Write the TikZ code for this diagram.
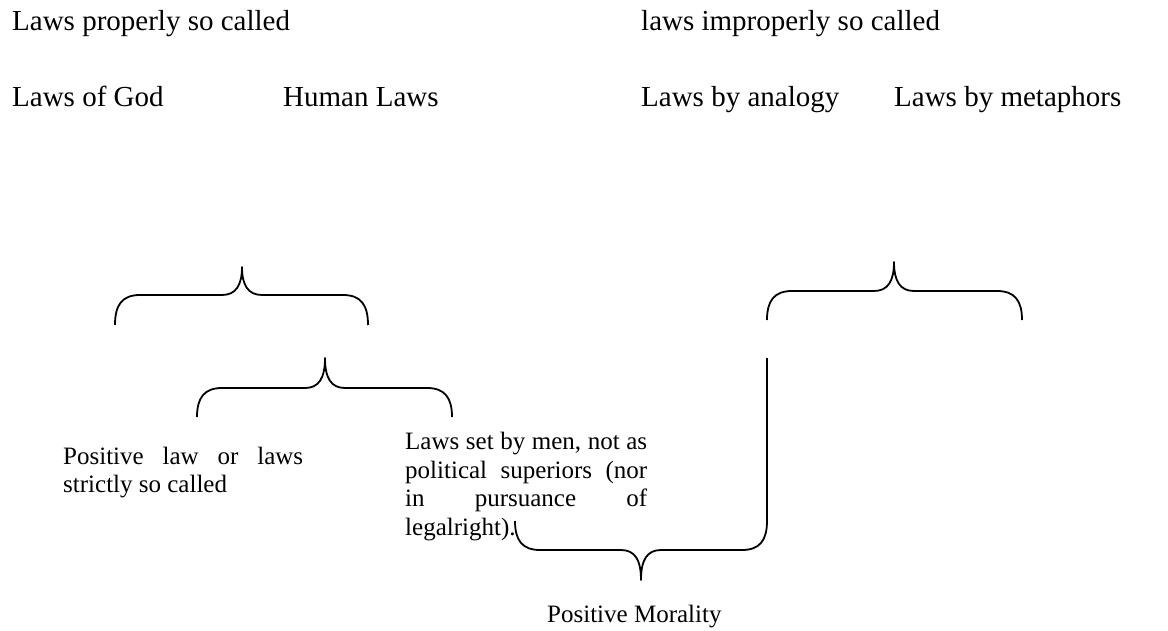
\documentclass[tikz,border=0pt]{standalone}
\usepackage{fontspec}
\setmainfont{Liberation Serif}
\begin{document}
\begin{tikzpicture}[x=1pt,y=-1pt,
  big/.style={font=\fontsize{29}{33}\selectfont, inner sep=0pt, anchor=base west},
  small/.style={font=\fontsize{25}{28.5}\selectfont, inner sep=0pt, anchor=base west},
  brace/.style={line width=1.8pt, line join=round, line cap=butt}]
\useasboundingbox (0,0) rectangle (1168,631);
% top rows
\node[big] (lp) at (12,31) {Laws properly so called};
\node[big] (li) at (641,31) {laws improperly so called};
\node[big] (lg) at (12,107) {Laws of God};
\node[big] (hl) at (283,107) {Human Laws};
\node[big] (la) at (641,107) {Laws by analogy};
\node[big] (lm) at (894,107) {Laws by metaphors};
% paragraphs
\node[small] (pl) at (63,464) {\vtop{\hbox{\makebox[240pt][s]{Positive law or laws}}\hbox{strictly so called}}};
\node[small] (lsm) at (405,449.5) {\vtop{\hbox{\makebox[242pt][s]{Laws set by men, not as}}\hbox{\makebox[242pt][s]{political superiors (nor}}\hbox{\makebox[242pt][s]{in pursuance of}}\hbox{legalright).}}};
\node[small] (pm) at (547,622) {Positive Morality};
% braces
\draw[brace] (115,325) .. controls (115,305) and (122,295) .. (140,295) -- (222,295)
  .. controls (236,295) and (242,285) .. (242,267)
  .. controls (242,285) and (248,295) .. (262,295) -- (343,295)
  .. controls (361,295) and (368,305) .. (368,325);
\draw[brace] (197,417) .. controls (197,398) and (204,388) .. (222,388) -- (305,388)
  .. controls (319,388) and (325,378) .. (325,358)
  .. controls (325,378) and (331,388) .. (345,388) -- (427,388)
  .. controls (445,388) and (452,398) .. (452,417);
\draw[brace] (767,320) .. controls (767,301) and (774,291) .. (792,291) -- (874,291)
  .. controls (888,291) and (894,281) .. (894,262)
  .. controls (894,281) and (900,291) .. (914,291) -- (997,291)
  .. controls (1015,291) and (1022,301) .. (1022,320);
\draw[brace] (515,521) .. controls (515,540) and (522,550) .. (540,550) -- (621,550)
  .. controls (635,550) and (641,560) .. (641,580)
  .. controls (641,560) and (647,550) .. (661,550) -- (742,550)
  .. controls (760,550) and (767,540) .. (767,521) -- (767,358);
\end{tikzpicture}
\end{document}
